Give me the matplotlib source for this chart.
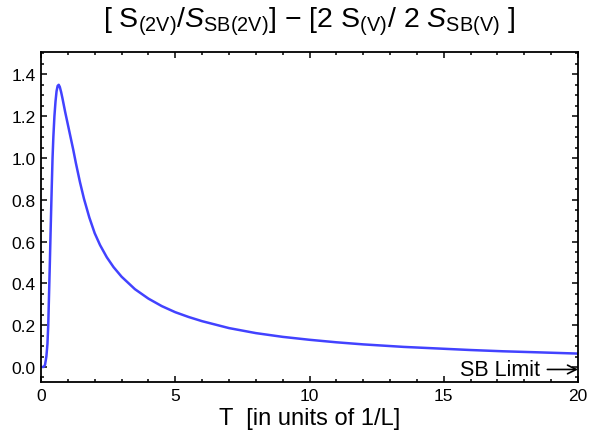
import numpy as np
import matplotlib.pyplot as plt
from matplotlib.ticker import MultipleLocator

plt.rcParams['font.family'] = ['Liberation Sans', 'DejaVu Sans']
plt.rcParams['mathtext.fontset'] = 'custom'
plt.rcParams['mathtext.rm'] = 'Liberation Sans'
plt.rcParams['mathtext.it'] = 'Liberation Sans:italic'

# entropy ratio difference vs temperature
T = [0, 0.1, 0.15, 0.2, 0.24, 0.27, 0.3, 0.33, 0.36, 0.4, 0.43, 0.46, 0.5,
     0.54, 0.58, 0.62, 0.66, 0.7, 0.75, 0.8, 0.9, 1.0, 1.1, 1.2, 1.3, 1.45,
     1.6, 1.8, 2.0, 2.2, 2.45, 2.7, 3.0, 3.5, 4.0, 4.5, 5.0, 5.5, 6.0, 7.0,
     8.0, 9.0, 10.0, 11.0, 12.0, 13.5, 15.0, 16.0, 17.2, 18.5, 20.0]
dS = [0, 0, 0.01, 0.05, 0.11, 0.2, 0.35, 0.5, 0.66, 0.86, 1.0, 1.1, 1.2,
      1.27, 1.32, 1.345, 1.35, 1.34, 1.315, 1.285, 1.22, 1.16, 1.1, 1.04,
      0.975, 0.885, 0.805, 0.715, 0.64, 0.583, 0.525, 0.478, 0.432, 0.372,
      0.327, 0.291, 0.262, 0.239, 0.219, 0.186, 0.162, 0.144, 0.13, 0.118,
      0.108, 0.096, 0.087, 0.081, 0.075, 0.07, 0.064]

fig = plt.figure(figsize=(5.89, 4.39), dpi=100)
ax = fig.add_axes([41/589, 1 - 383/439, 537/589, 330/439])

ax.plot(T, dS, color='#4242FF', lw=1.8, solid_joinstyle='round')

ax.set_xlim(0, 20)
ax.set_ylim(-0.072, 1.507)
ax.xaxis.set_major_locator(MultipleLocator(5))
ax.xaxis.set_minor_locator(MultipleLocator(1))
ax.yaxis.set_major_locator(MultipleLocator(0.2))
ax.yaxis.set_minor_locator(MultipleLocator(0.05))
ax.yaxis.set_major_formatter(lambda v, p: '%.1f' % v)
ax.tick_params(which='both', direction='in', top=True, right=True,
               labelsize=12.5, width=1.1, color='black')
ax.tick_params(which='major', length=4, pad=4)
ax.tick_params(which='minor', length=2)
for s in ax.spines.values():
    s.set_linewidth(1.3)

ax.set_xlabel('T  [in units of 1/L]', fontsize=17, labelpad=3)

ax.annotate('SB Limit', xy=(20, -0.012), xytext=(18.6, -0.012),
            ha='right', va='center', fontsize=15.5,
            arrowprops=dict(arrowstyle='->', lw=1.2, shrinkA=3, shrinkB=0))

title = (r'[ S$_{\rm(2V)}$/$S_{\rm SB(2V)}$] $-$ '
         r'[2 S$_{\rm(V)}$/ 2 $S_{\rm SB(V)}$ ]')
fig.text(309.5/589, 1 - 22/439, title, ha='center', va='center', fontsize=20.5)

plt.savefig('out.png', dpi=100)
